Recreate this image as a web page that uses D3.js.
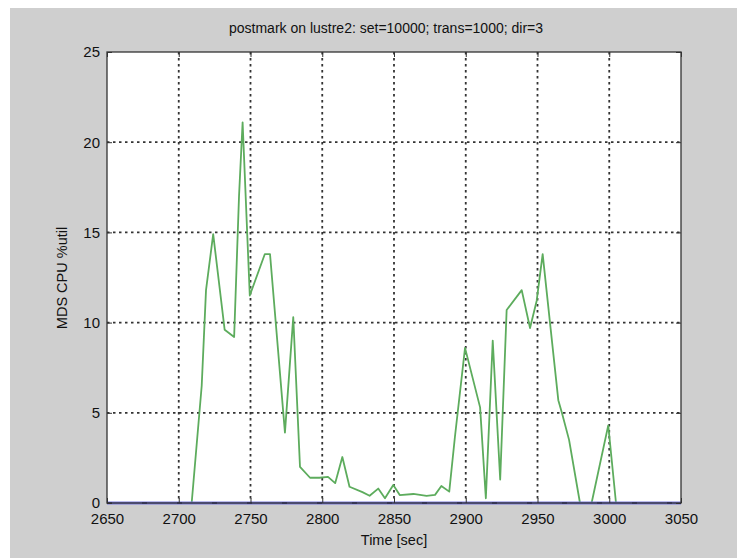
<!DOCTYPE html>
<html lang="en">
<head>
    <meta charset="UTF-8">
    <title>postmark on lustre2</title>
    <script src="https://d3js.org/d3.v7.min.js"></script>
    <style>
        body { margin: 0; background: #fff; }
        text { font-family: "Liberation Sans", Arial, sans-serif; fill: #111; }
    </style>
</head>
<body>
    <svg id='chart' width='737' height='558'></svg>

    <script>
        // green series: MDS cpu util over time
        var times = [2650, 2680, 2709, 2716, 2719, 2724, 2732, 2738.6, 2742, 2744.5, 2749.5,
                     2760, 2763.6, 2774, 2779.8, 2784.5, 2791.5, 2798, 2804, 2809, 2814, 2819,
                     2828, 2833, 2839, 2843.7, 2849.5, 2854, 2863.5, 2872.7, 2878.6, 2883, 2888.5,
                     2892.5, 2899.5, 2910, 2914, 2918.8, 2924, 2928.5, 2939, 2944.8, 2949.4,
                     2953.6, 2958.7, 2964.5, 2967, 2972, 2979.6, 2987.7, 2999.3, 3004.7, 3050]
        var cpu   = [0, 0, 0, 6.5, 11.8, 14.9, 9.6, 9.2, 17, 21.1, 11.5,
                     13.8, 13.8, 3.9, 10.3, 2.0, 1.4, 1.4, 1.45, 1.1, 2.55, 0.9,
                     0.6, 0.4, 0.8, 0.26, 1.0, 0.44, 0.5, 0.4, 0.45, 0.94, 0.63,
                     3.7, 8.6, 5.3, 0.26, 9.0, 1.3, 10.7, 11.8, 9.7, 11.2,
                     13.8, 10, 5.7, 5.0, 3.5, 0, 0, 4.3, 0, 0]
        // blue series sitting on zero
        var blueTimes = [2650, 3050]
        var blueVals = [0, 0]

        var xTicks = [2650, 2700, 2750, 2800, 2850, 2900, 2950, 3000, 3050]
        var yTicks = [0, 5, 10, 15, 20, 25]

        var svg = d3.select('#chart')
        var axL = 107, axR = 681, axT = 52, axB = 503

        svg.append('rect').attr('x', 10).attr('y', 8).attr('width', 727).attr('height', 550)
            .attr('fill', '#cfcfcf')
        svg.append('rect').attr('x', axL).attr('y', axT)
            .attr('width', axR - axL).attr('height', axB - axT).attr('fill', '#fff')

        var x = d3.scaleLinear().domain([2650, 3050]).range([axL, axR])
        var y = d3.scaleLinear().domain([0, 25]).range([axB, axT])

        // dotted grid
        var grid = svg.append('g').attr('stroke', '#333').attr('stroke-width', 1.8)
            .attr('stroke-dasharray', '2.5,3.5')
        grid.selectAll('.gx').data(xTicks.slice(1, -1)).enter().append('line')
            .attr('x1', d => x(d)).attr('x2', d => x(d)).attr('y1', axT).attr('y2', axB)
        grid.selectAll('.gy').data(yTicks.slice(1, -1)).enter().append('line')
            .attr('y1', d => y(d)).attr('y2', d => y(d)).attr('x1', axL).attr('x2', axR)

        var line = d3.line().x(d => x(d[0])).y(d => y(d[1]))

        svg.append('path').datum(d3.zip(times, cpu)).attr('d', line)
            .attr('fill', 'none').attr('stroke', '#5dac5d').attr('stroke-width', 1.8)
            .attr('stroke-linejoin', 'round')

        svg.append('path').datum(d3.zip(blueTimes, blueVals)).attr('d', line)
            .attr('fill', 'none').attr('stroke', '#7878de').attr('stroke-width', 3)
        svg.append('path').datum(d3.zip(blueTimes, blueVals)).attr('d', line)
            .attr('fill', 'none').attr('stroke', '#2a2a78').attr('stroke-width', 1.6)
            .attr('stroke-dasharray', '5,30')

        // axes, ticks inward like matlab
        function styleAxis(g) {
            g.select('.domain').remove()
            g.selectAll('.tick line').attr('stroke', '#333')
            g.selectAll('.tick text').style('font-size', '15px').attr('fill', '#111')
        }
        svg.append('g').attr('transform', 'translate(0,' + axB + ')')
            .call(d3.axisBottom(x).tickValues(xTicks).tickFormat(d3.format('d')).tickSize(-5).tickPadding(10))
            .call(styleAxis)
        svg.append('g').attr('transform', 'translate(0,' + axT + ')')
            .call(d3.axisTop(x).tickValues(xTicks).tickFormat('').tickSize(-5))
            .call(styleAxis)
        svg.append('g').attr('transform', 'translate(' + axL + ',0)')
            .call(d3.axisLeft(y).tickValues(yTicks).tickSize(-5).tickPadding(7))
            .call(styleAxis)
        svg.append('g').attr('transform', 'translate(' + axR + ',0)')
            .call(d3.axisRight(y).tickValues(yTicks).tickFormat('').tickSize(-5))
            .call(styleAxis)

        svg.append('rect').attr('x', axL).attr('y', axT)
            .attr('width', axR - axL).attr('height', axB - axT)
            .attr('fill', 'none').attr('stroke', '#333').attr('stroke-width', 1.3)

        svg.append('text').attr('x', 386).attr('y', 33).attr('text-anchor', 'middle')
            .style('font-size', '14px').text('postmark on lustre2: set=10000; trans=1000; dir=3')
        svg.append('text').attr('x', 394).attr('y', 545).attr('text-anchor', 'middle')
            .style('font-size', '14.5px').text('Time [sec]')
        svg.append('text').attr('transform', 'translate(67,278) rotate(-90)')
            .attr('text-anchor', 'middle').style('font-size', '14.5px').text('MDS CPU %util')
    </script>
</body>
</html>
